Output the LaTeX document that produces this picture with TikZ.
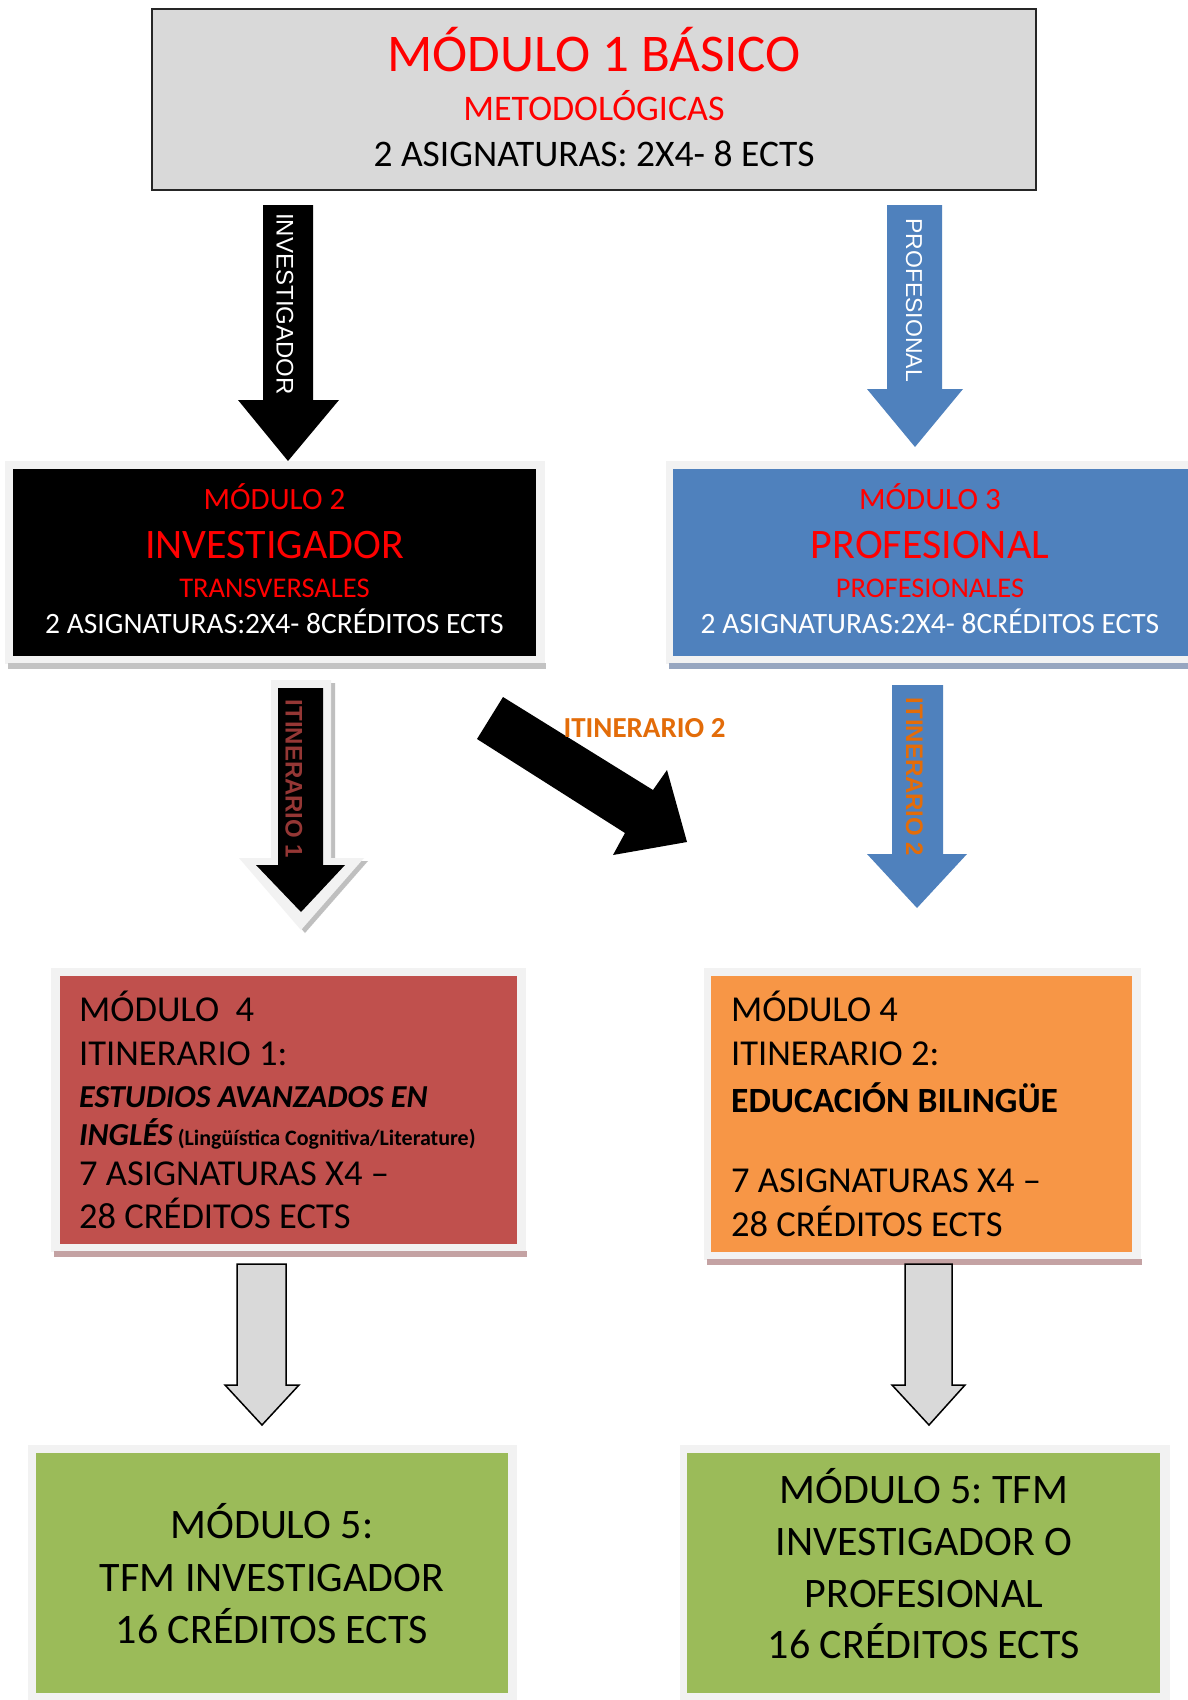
\documentclass[tikz,border=0pt]{standalone}
\usepackage{fontspec}
\setmainfont{Carlito}
\newfontfamily\arialfont{Liberation Sans}
\frenchspacing
\definecolor{rojo}{HTML}{FF0000}
\definecolor{azul}{HTML}{4F81BD}
\definecolor{granate}{HTML}{C0504D}
\definecolor{naranja}{HTML}{F79646}
\definecolor{verde}{HTML}{9BBB59}
\definecolor{gris}{HTML}{D9D9D9}
\definecolor{naranjaosc}{HTML}{E36C09}
\definecolor{rojoosc}{HTML}{953735}
\definecolor{marco}{HTML}{F2F2F2}
\definecolor{bandagris}{HTML}{C3C3C3}
\definecolor{bandaazul}{HTML}{97A6C0}
\definecolor{bandaroja}{HTML}{C4A2A3}
\newcommand{\tam}[1]{\fontsize{#1}{#1}\selectfont}

\begin{document}
\begin{tikzpicture}[x=1pt,y=-1pt]
  \tikzset{caja/.style = {inner sep = 0pt, outer sep = 0pt, draw = none},
           linea/.style = {anchor = base, inner sep = 0pt},
           lineaizq/.style = {anchor = base west, inner sep = 0pt},
           vertical/.style = {rotate = -90, inner sep = 0pt}}
  \useasboundingbox (0,0) rectangle (1187,1700);
  \fill[white] (0,0) rectangle (1187,1700);

  % modulo 1
  \node[caja, fill=gris, draw=black!85, line width=1.5pt, minimum width=884, minimum height=181] (mod1) at (594,99.5) {};
  \node[linea, text=rojo, font=\tam{53}] (mod1a) at (594,71) {MÓDULO 1 BÁSICO};
  \node[linea, text=rojo, font=\tam{36}] (mod1b) at (594,120) {METODOLÓGICAS};
  \node[linea, font=\tam{37.5}] (mod1c) at (594,166) {2 ASIGNATURAS: 2X4- 8 ECTS};

  % flechas superiores
  \fill[black] (263,205) -- (313,205) -- (313,400) -- (339,400) -- (288,461) -- (238,400) -- (263,400) -- cycle;
  \node[vertical, text=white, font=\arialfont\tam{24}] (inv) at (285,304) {INVESTIGADOR};
  \fill[azul] (887,205) -- (942,205) -- (942,389) -- (963,389) -- (915,447) -- (867,389) -- (887,389) -- cycle;
  \node[vertical, text=white, font=\arialfont\tam{23}] (prof) at (914,300) {PROFESIONAL};

  % modulo 2
  \fill[marco] (5,461) rectangle (545,664);
  \fill[bandagris] (8,663) rectangle (546,669);
  \node[caja, fill=black, minimum width=523, minimum height=187] (mod2) at (274.5,562.5) {};
  \node[linea, text=rojo, font=\tam{31}] (mod2a) at (274.5,509) {MÓDULO 2};
  \node[linea, text=rojo, font=\tam{42}] (mod2b) at (274.5,558) {INVESTIGADOR};
  \node[linea, text=rojo, font=\tam{28.5}] (mod2c) at (274.5,597) {TRANSVERSALES};
  \node[linea, text=white, font=\tam{29.5}] (mod2d) at (274.5,633) {2 ASIGNATURAS:2X4- 8CRÉDITOS ECTS};

  % modulo 3
  \fill[marco] (666,461) rectangle (1195,664);
  \fill[bandaazul] (669,663) rectangle (1195,669);
  \node[caja, fill=azul, minimum width=522, minimum height=187] (mod3) at (934,562.5) {};
  \node[linea, text=rojo, font=\tam{31}] (mod3a) at (930,509) {MÓDULO 3};
  \node[linea, text=rojo, font=\tam{42}] (mod3b) at (930,558) {PROFESIONAL};
  \node[linea, text=rojo, font=\tam{28.5}] (mod3c) at (930,597) {PROFESIONALES};
  \node[linea, text=white, font=\tam{29.5}] (mod3d) at (930,633) {2 ASIGNATURAS:2X4- 8CRÉDITOS ECTS};

  % itinerarios
  \fill[black!25] (275,683) -- (335,683) -- (335,861) -- (368,861) -- (305,933) -- (243,861) -- (275,861) -- cycle;
  \fill[marco] (271,680) -- (331,680) -- (331,858) -- (364,858) -- (301,930) -- (239,858) -- (271,858) -- cycle;
  \fill[black] (278,688) -- (323,688) -- (323,865) -- (345,865) -- (301,912) -- (256,865) -- (278,865) -- cycle;
  \node[vertical, text=rojoosc, font=\arialfont\bfseries\tam{24}] (it1) at (294,779) {ITINERARIO 1};

  \fill[black] (503,697) -- (653,790) -- (667,770) -- (687,842) -- (613,855) -- (625,833) -- (477,739) -- cycle;
  \node[inner sep=0pt, text=naranjaosc, font=\bfseries\tam{29}] (it2diag) at (644.5,728) {ITINERARIO 2};

  \fill[azul] (892,685) -- (943,685) -- (943,854) -- (967,854) -- (917,908) -- (867,854) -- (892,854) -- cycle;
  \node[vertical, text=naranjaosc, font=\arialfont\bfseries\tam{24}] (it2) at (914.5,777) {ITINERARIO 2};

  % modulo 4
  \fill[marco] (51,968) rectangle (526,1252);
  \fill[bandaroja] (54,1251) rectangle (527,1257);
  \node[caja, fill=granate, minimum width=457, minimum height=268] (mod4a) at (288.5,1110) {};
  \node[lineaizq, font=\tam{36.5}] (m4a1) at (79,1021) {MÓDULO\ \ 4};
  \node[lineaizq, font=\tam{36.5}] (m4a2) at (79,1065) {ITINERARIO 1:};
  \node[lineaizq, font=\bfseries\itshape\tam{32}] (m4a3) at (79,1107) {ESTUDIOS AVANZADOS EN};
  \node[lineaizq, font=\bfseries\tam{22}] (m4a4) at (79,1145) {{\itshape\tam{32}INGLÉS} (Lingüística Cognitiva/Literature)};
  \node[lineaizq, font=\tam{36.5}] (m4a5) at (79,1185) {7 ASIGNATURAS X4 –};
  \node[lineaizq, font=\tam{36.5}] (m4a6) at (79,1228) {28 CRÉDITOS ECTS};

  \fill[marco] (704,968) rectangle (1141,1260);
  \fill[bandaroja] (707,1259) rectangle (1142,1265);
  \node[caja, fill=naranja, minimum width=421, minimum height=276] (mod4b) at (921.5,1114) {};
  \node[lineaizq, font=\tam{36.5}] (m4b1) at (731,1021) {MÓDULO 4};
  \node[lineaizq, font=\tam{36.5}] (m4b2) at (731,1065) {ITINERARIO 2:};
  \node[lineaizq, font=\bfseries\tam{35.5}] (m4b3) at (731,1112) {EDUCACIÓN BILINGÜE};
  \node[lineaizq, font=\tam{36.5}] (m4b4) at (731,1192) {7 ASIGNATURAS X4 –};
  \node[lineaizq, font=\tam{36.5}] (m4b5) at (731,1236) {28 CRÉDITOS ECTS};

  % flechas grises
  \filldraw[fill=gris, draw=black, line width=1.5pt, line join=miter] (237,1264) -- (286,1264) -- (286,1385) -- (299,1385) -- (262,1425) -- (225,1385) -- (237,1385) -- cycle;
  \filldraw[fill=gris, draw=black, line width=1.5pt, line join=miter] (905,1264) -- (952,1264) -- (952,1385) -- (965,1385) -- (929,1425) -- (892,1385) -- (905,1385) -- cycle;

  % modulo 5
  \fill[marco] (28,1445) rectangle (517,1705);
  \node[caja, fill=verde, minimum width=472, minimum height=240] (mod5a) at (272,1573) {};
  \node[linea, font=\tam{42}] (m5a1) at (272,1538) {MÓDULO 5:};
  \node[linea, font=\tam{42}] (m5a2) at (272,1591) {TFM INVESTIGADOR};
  \node[linea, font=\tam{42}] (m5a3) at (272,1643) {16 CRÉDITOS ECTS};

  \fill[marco] (680,1445) rectangle (1170,1705);
  \node[caja, fill=verde, minimum width=473, minimum height=240] (mod5b) at (923.5,1573) {};
  \node[linea, font=\tam{42}] (m5b1) at (924,1503) {MÓDULO 5: TFM};
  \node[linea, font=\tam{42}] (m5b2) at (924,1555) {INVESTIGADOR O};
  \node[linea, font=\tam{42}] (m5b3) at (924,1607) {PROFESIONAL};
  \node[linea, font=\tam{42}] (m5b4) at (924,1658) {16 CRÉDITOS ECTS};
\end{tikzpicture}
\end{document}
